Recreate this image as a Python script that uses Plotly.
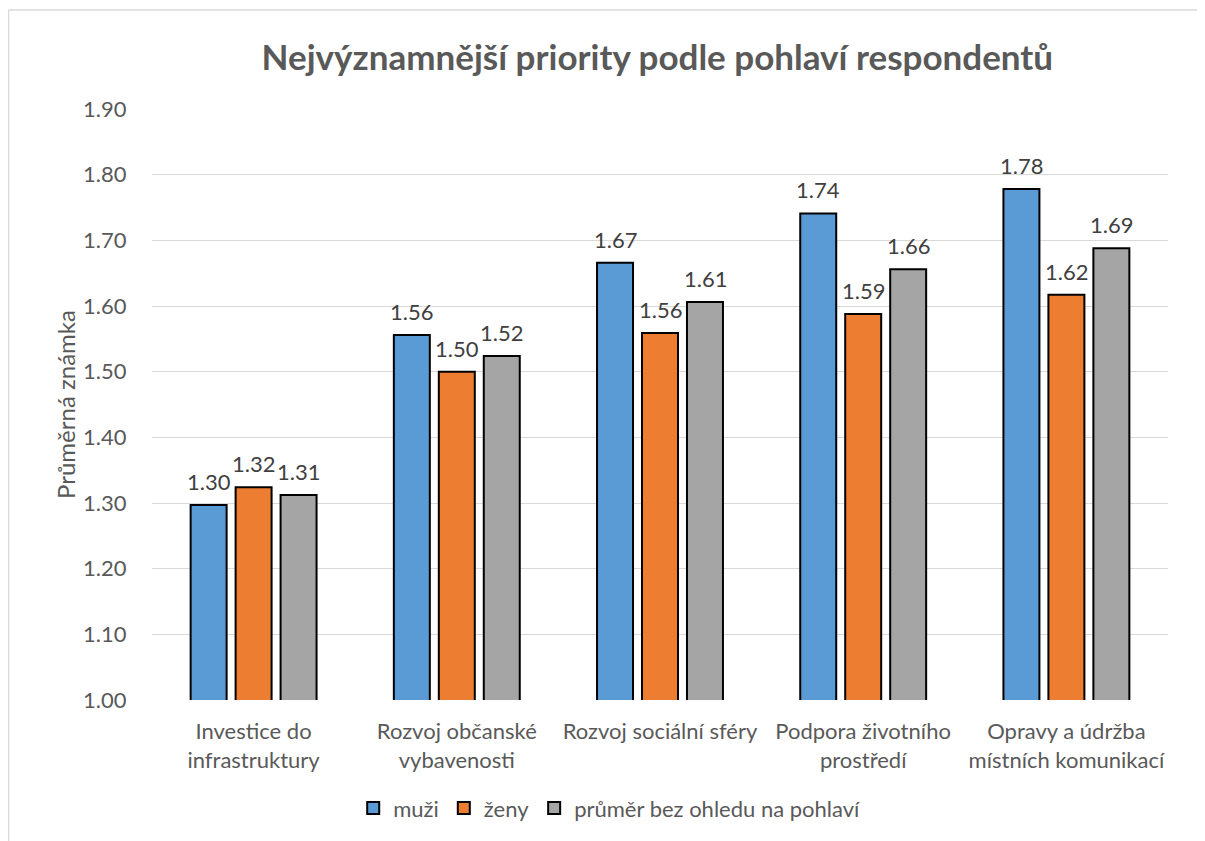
import plotly.graph_objects as go

# data
categories = ["Investice do<br>infrastruktury", "Rozvoj občanské<br>vybavenosti",
              "Rozvoj sociální sféry", "Podpora životního<br>prostředí",
              "Opravy a údržba<br>místních komunikací"]
muzi = [1.297, 1.556, 1.666, 1.741, 1.778]
zeny = [1.324, 1.500, 1.559, 1.588, 1.617]
prumer = [1.312, 1.524, 1.606, 1.656, 1.688]

series_names = ["muži", "ženy", "průměr bez ohledu na pohlaví"]
colors = ["#5B9BD5", "#ED7D31", "#A5A5A5"]

FONT = "Lato"
GREY = "#595959"
SLOT = 45  # px per bar slot inside a group (used to centre the value labels)

fig = go.Figure()
for k, (name, vals, col) in enumerate(zip(series_names, [muzi, zeny, prumer], colors)):
    fig.add_trace(go.Bar(
        x=categories, y=vals, name=name,
        marker=dict(color=col, line=dict(color="black", width=2)),
    ))
    # value labels a bit above the bars, like Excel does
    for cat, v in zip(categories, vals):
        fig.add_annotation(x=cat, y=v, text=f"{v:.2f}", showarrow=False,
                           xshift=(k - 1) * SLOT, yshift=8, yanchor="bottom",
                           font=dict(family=FONT, size=22, color="#404040"))

# page body has an 8px margin, so the figure is 8px smaller than the window
fig.update_layout(
    width=1197, height=833,
    margin=dict(l=144, r=37, t=101, b=141),
    paper_bgcolor="white", plot_bgcolor="white",
    barmode="group", bargap=0.336, bargroupgap=0.2,
    title=dict(text="<b>Nejvýznamnější priority podle pohlaví respondentů</b>",
               x=0.5425, xanchor="center", y=0.94, yanchor="middle",
               font=dict(family=FONT, size=35, color=GREY)),
    font=dict(family=FONT, size=22, color=GREY),
    legend=dict(orientation="h", x=0.45, xanchor="center", y=-0.183, yanchor="middle",
                font=dict(family=FONT, size=22, color=GREY), itemwidth=30,
                traceorder="normal"),
    showlegend=True,
)

fig.update_yaxes(range=[1, 1.9], dtick=0.1, tickformat=".2f",
                 showgrid=True, gridcolor="#D9D9D9", gridwidth=1.3,
                 zeroline=False, showline=False,
                 ticks="outside", ticklen=20, tickcolor="white",
                 tickfont=dict(family=FONT, size=22, color=GREY),
                 title=dict(text="Průměrná známka", standoff=0,
                            font=dict(family=FONT, size=24, color=GREY)))
fig.update_xaxes(showgrid=False, showline=False, zeroline=False,
                 ticks="outside", ticklen=12, tickcolor="white",
                 tickfont=dict(family=FONT, size=22, color=GREY))

# light chart-area frame: only the top and left edges are inside the page
frame = dict(color="#D9D9D9", width=1.5)
fig.add_shape(type="line", xref="paper", yref="paper",
              x0=-0.1412, x1=1.1, y0=1.1675, y1=1.1675, line=frame, layer="below")
fig.add_shape(type="line", xref="paper", yref="paper",
              x0=-0.1412, x1=-0.1412, y0=-0.3, y1=1.1675, line=frame, layer="below")

fig.write_html("out.html")
